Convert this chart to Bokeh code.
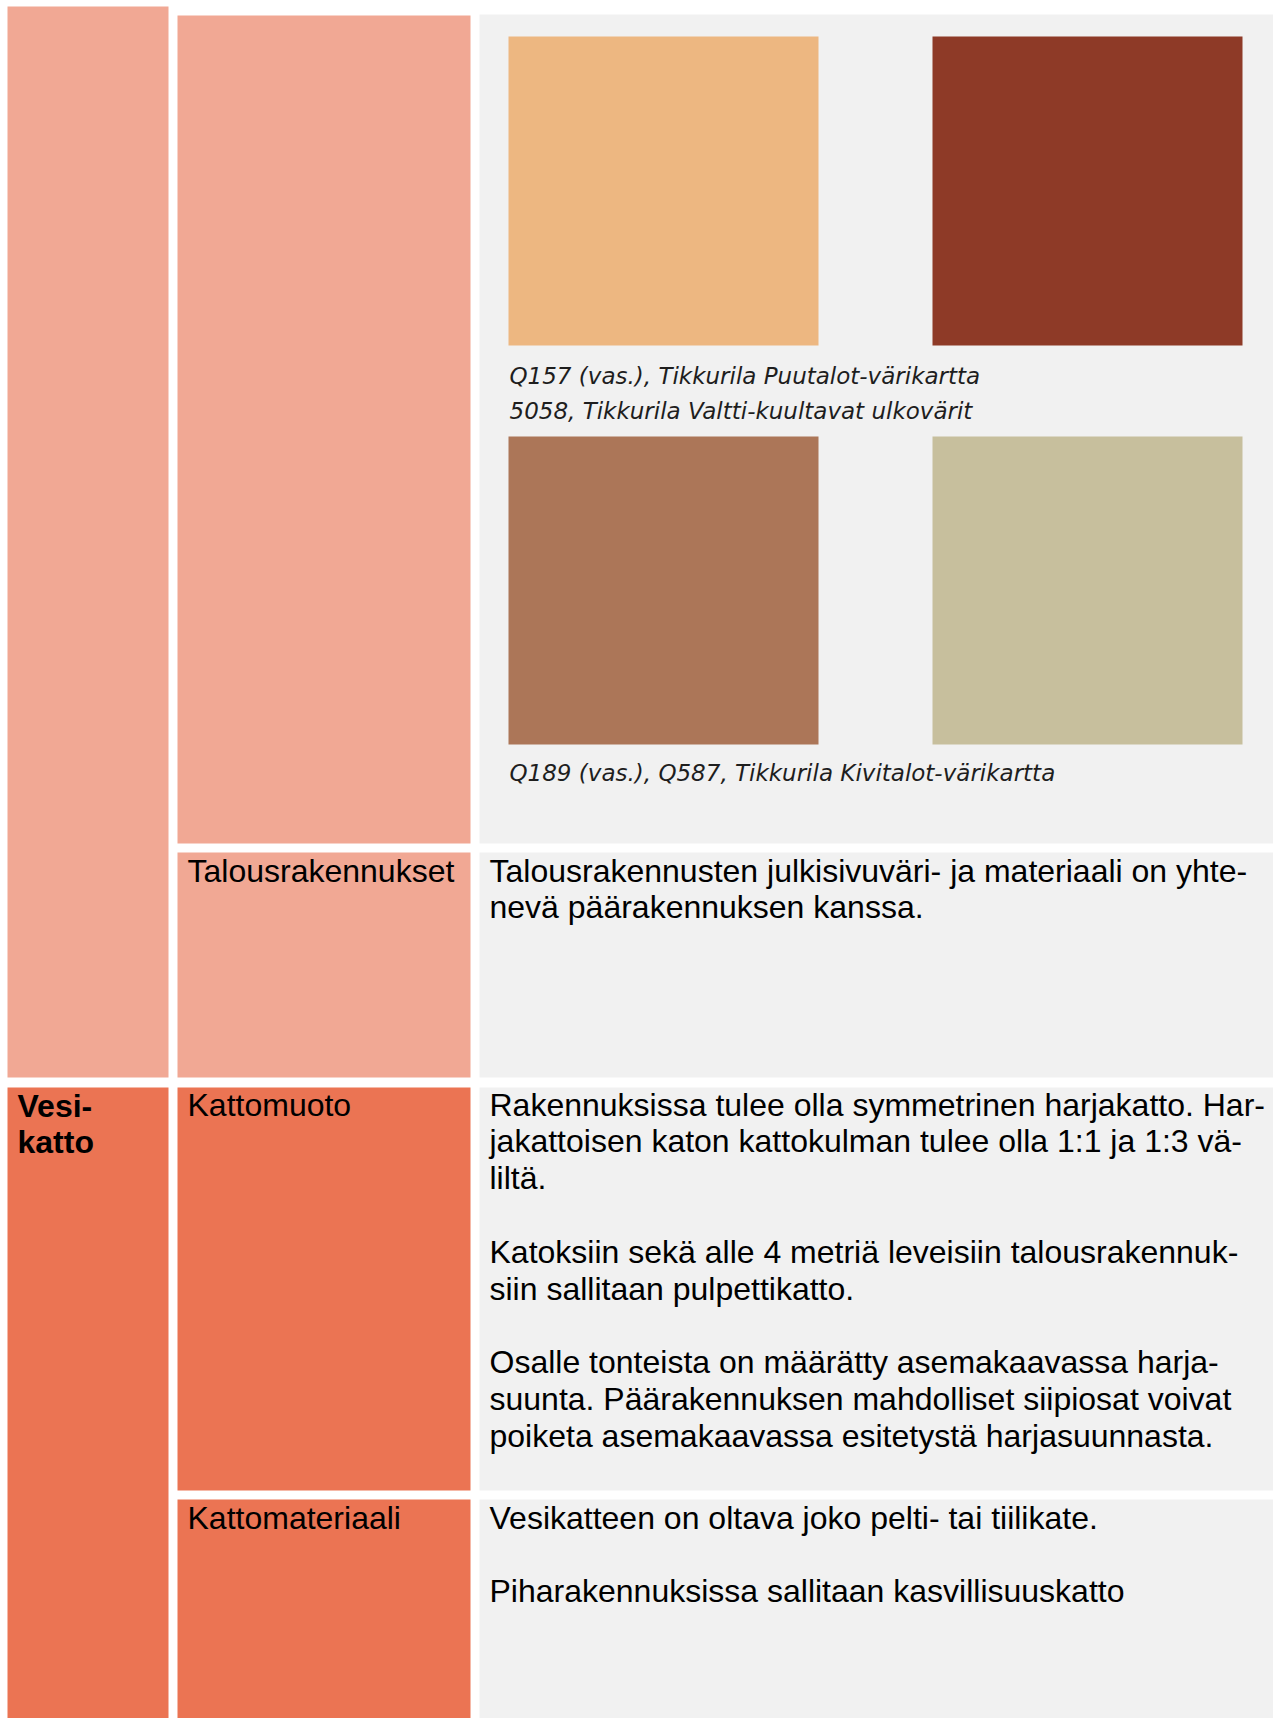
from bokeh.plotting import figure
from bokeh.models import Range1d
from bokeh.core.properties import value
from bokeh.embed import file_html
from bokeh.resources import INLINE

# ---- content (data) ----
group_labels = ["Vesi-\nkatto"]
row_labels = ["", "Talousrakennukset", "Kattomuoto", "Kattomateriaali"]
row_texts = [
    [],
    ["Talousrakennusten julkisivuväri- ja materiaali  on yhte-",
     "nevä päärakennuksen kanssa."],
    ["Rakennuksissa tulee olla symmetrinen harjakatto. Har-",
     "jakattoisen katon kattokulman tulee olla 1:1 ja 1:3 vä-",
     "liltä.",
     "",
     "Katoksiin sekä alle 4 metriä leveisiin talousrakennuk-",
     "siin sallitaan pulpettikatto.",
     "",
     "Osalle tonteista on määrätty asemakaavassa harja-",
     "suunta. Päärakennuksen mahdolliset siipiosat voivat",
     "poiketa asemakaavassa esitetystä harjasuunnasta."],
    ["Vesikatteen on oltava joko pelti- tai tiilikate.",
     "",
     "Piharakennuksissa sallitaan kasvillisuuskatto"],
]
swatch_colors = ["#EDB781", "#8E3A27", "#AC7658", "#C7BF9D"]
captions = [
    ["Q157 (vas.), Tikkurila Puutalot-värikartta",
     "5058, Tikkurila Valtti-kuultavat ulkovärit"],
    ["Q189 (vas.), Q587, Tikkurila Kivitalot-värikartta"],
]
group_colors = ["#F1A894", "#EB7453"]
cell_grey = "#F1F1F1"

# ---- layout (page pixel coordinates) ----
W, H = 1273, 1718
p = figure(width=W, height=H, x_range=Range1d(0, W), y_range=Range1d(H, 0),
           output_backend="svg", toolbar_location=None, min_border=0)
p.axis.visible = False
p.grid.visible = False
p.outline_line_color = None
p.background_fill_color = "white"
p.border_fill_color = "white"

col_l = [7, 177, 479]
col_r = [168, 470, 1273]
row_top = [15, 852, 1087, 1499]
row_bot = [843, 1077, 1490, 1760]
grp_top = [6, 1087]
grp_bot = [1077, 1760]
row_group = [0, 0, 1, 1]

# group column cells
p.quad(left=[col_l[0]] * 2, right=[col_r[0]] * 2, top=grp_top, bottom=grp_bot,
       fill_color=group_colors, line_color=None)
# label column cells
p.quad(left=[col_l[1]] * 4, right=[col_r[1]] * 4, top=row_top, bottom=row_bot,
       fill_color=[group_colors[g] for g in row_group], line_color=None)
# content column cells
p.quad(left=[col_l[2]] * 4, right=[col_r[2]] * 4, top=[14] + row_top[1:], bottom=row_bot,
       fill_color=cell_grey, line_color=None)

# swatches
sw_l = [508, 932, 508, 932]
sw_r = [818, 1242, 818, 1242]
sw_t = [36, 36, 436, 436]
sw_b = [345, 345, 744, 744]
p.quad(left=sw_l, right=sw_r, top=sw_t, bottom=sw_b, fill_color=swatch_colors, line_color=None)

main_font = value("Liberation Sans")

# captions
cap_base = [[375, 410.5], [772]]
cx, cy, ct = [], [], []
for lines, bases in zip(captions, cap_base):
    for t, b in zip(lines, bases):
        cx.append(509); cy.append(b); ct.append(t)
p.text(x=cx, y=cy, text=ct, text_font=value("DejaVu Sans"), text_font_style="italic",
       text_font_size="23px", text_color="#1e1e1e", text_baseline="alphabetic", text_align="left")

# group label (bold)
gl = group_labels[0].split("\n")
p.text(x=[17] * len(gl), y=[1105 + 36.5 * i for i in range(len(gl))], text=gl,
       text_font=main_font, text_font_style="bold", text_font_size="32px",
       text_color="black", text_baseline="alphabetic")

# row labels
first_base = [None, 870, 1104, 1517]
lx, ly, lt = [], [], []
for lab, b in zip(row_labels, first_base):
    if lab:
        lx.append(187); ly.append(b); lt.append(lab)
p.text(x=lx, y=ly, text=lt, text_font=main_font, text_font_size="32px",
       text_color="black", text_baseline="alphabetic")

# content texts
step = 36.8
tx, ty, tt = [], [], []
for lines, b in zip(row_texts, first_base):
    for i, t in enumerate(lines):
        if t:
            tx.append(489); ty.append(b + step * i); tt.append(t)
p.text(x=tx, y=ty, text=tt, text_font=main_font, text_font_size="32px",
       text_color="black", text_baseline="alphabetic")

open("out.html", "w").write(file_html(p, INLINE))
